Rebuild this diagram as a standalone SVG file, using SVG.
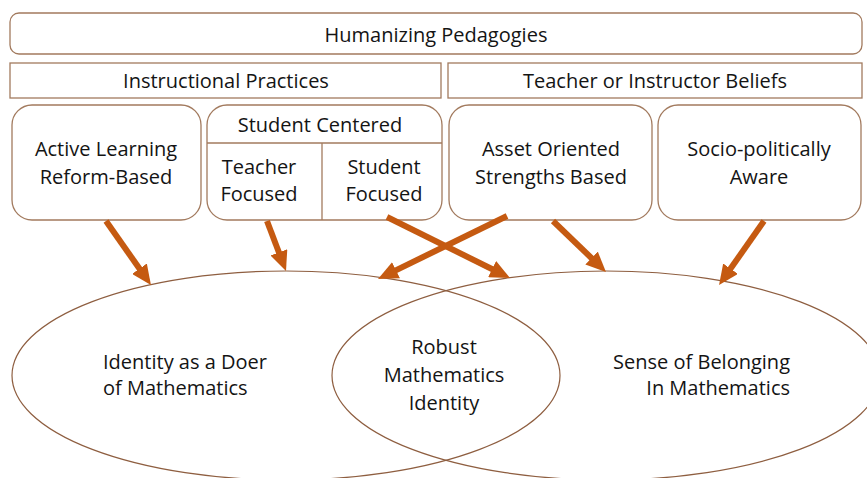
<svg xmlns="http://www.w3.org/2000/svg" width="867" height="478" viewBox="0 0 867 478">
<style>
.box{fill:#fff;stroke:#A27A5E;stroke-width:1.3}
.ell{fill:none;stroke:#8E5E40;stroke-width:1.2}
.t{font-family:"Open Sans","Noto Sans",sans-serif;font-size:20px;fill:#141414;text-anchor:middle}
.arr{stroke:#C55A11;stroke-width:6;fill:none;marker-end:url(#ah)}
</style>
<defs>
<marker id="ah" markerUnits="userSpaceOnUse" viewBox="0 0 20 18" refX="2" refY="9" markerWidth="20" markerHeight="18" orient="auto">
<path d="M0,0 L20,9 L0,18 Z" fill="#C55A11"/>
</marker>
</defs>
<rect width="867" height="478" fill="#fff"/>
<g id="humanizing">
<rect class="box" x="10" y="13" width="852" height="41" rx="9"/>
<text class="t" x="436" y="42">Humanizing Pedagogies</text>
</g>
<g id="instructional">
<rect class="box" x="10" y="63" width="431" height="35"/>
<text class="t" x="226" y="88">Instructional Practices</text>
</g>
<g id="beliefs">
<rect class="box" x="448" y="63" width="414" height="35"/>
<text class="t" x="655" y="88">Teacher or Instructor Beliefs</text>
</g>
<g id="active">
<rect class="box" x="12" y="105" width="189" height="115" rx="20"/>
<text class="t" x="106" y="156">Active Learning</text>
<text class="t" x="106" y="184">Reform-Based</text>
</g>
<g id="student-centered">
<rect class="box" x="207" y="105" width="235" height="115" rx="20"/>
<line x1="207" y1="143" x2="442" y2="143" stroke="#A27A5E" stroke-width="1.3"/>
<line x1="322" y1="143" x2="322" y2="220" stroke="#A27A5E" stroke-width="1.3"/>
<text class="t" x="320" y="132">Student Centered</text>
<text class="t" x="259" y="174">Teacher</text>
<text class="t" x="259" y="201">Focused</text>
<text class="t" x="384" y="174">Student</text>
<text class="t" x="384" y="201">Focused</text>
</g>
<g id="asset">
<rect class="box" x="449" y="105" width="203" height="115" rx="20"/>
<text class="t" x="551" y="156">Asset Oriented</text>
<text class="t" x="551" y="184">Strengths Based</text>
</g>
<g id="socio">
<rect class="box" x="658" y="105" width="203" height="115" rx="20"/>
<text class="t" x="759" y="156">Socio-politically</text>
<text class="t" x="759" y="184">Aware</text>
</g>
<g id="identity-doer">
<ellipse class="ell" cx="286" cy="375.5" rx="274" ry="104.5"/>
<text class="t" x="103" y="369" style="text-anchor:start">Identity as a Doer</text>
<text class="t" x="103" y="395" style="text-anchor:start">of Mathematics</text>
</g>
<g id="belonging">
<ellipse class="ell" cx="606" cy="375.5" rx="274" ry="104.5"/>
<text class="t" x="790" y="369" style="text-anchor:end">Sense of Belonging</text>
<text class="t" x="790" y="395" style="text-anchor:end">In Mathematics</text>
</g>
<g id="robust">
<text class="t" x="444" y="354">Robust</text>
<text class="t" x="444" y="382">Mathematics</text>
<text class="t" x="444" y="410">Identity</text>
</g>
<g id="connectors">
<path class="arr" d="M106,221 L140.6,270.3"/>
<path class="arr" d="M267,221 L279.6,254.2"/>
<path class="arr" d="M387,217 L493.9,270"/>
<path class="arr" d="M507,216 L394.2,271.1"/>
<path class="arr" d="M553,221 L593,259.5"/>
<path class="arr" d="M764,221 L729.4,270.3"/>
</g>
</svg>
